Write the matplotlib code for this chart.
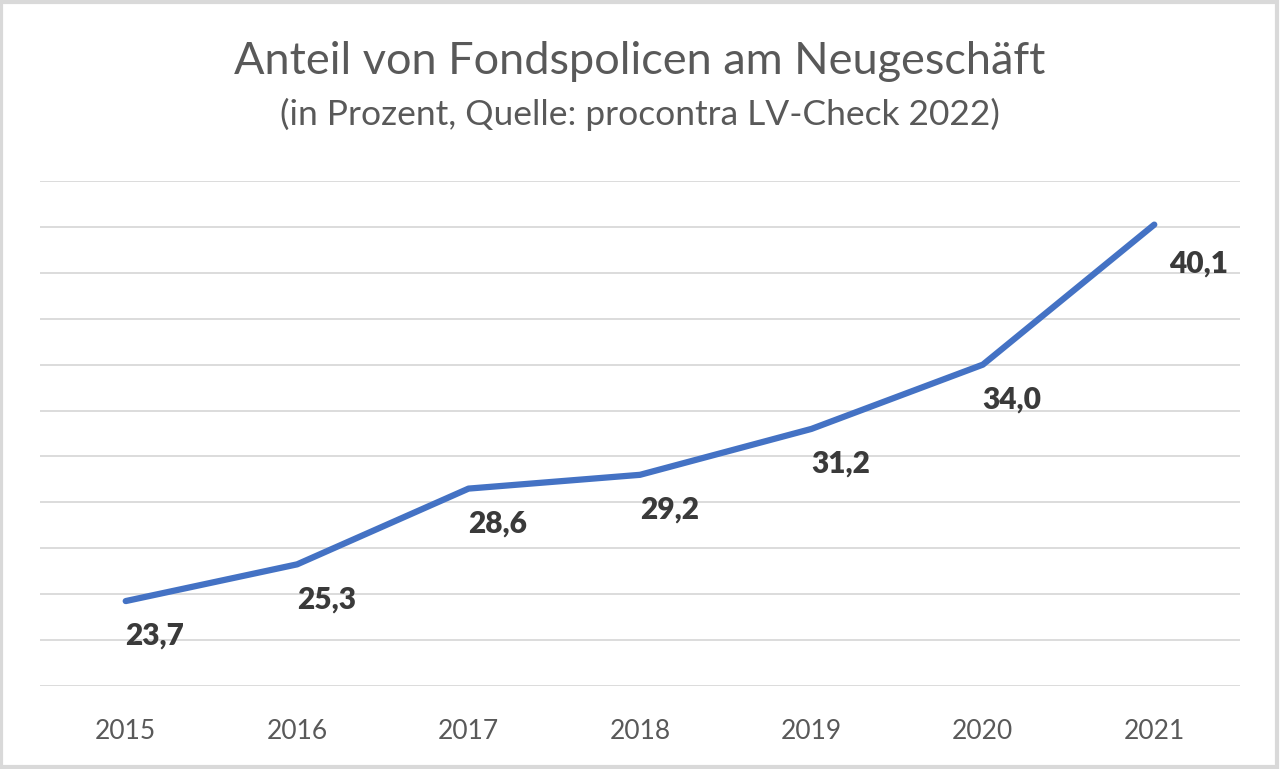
import matplotlib.pyplot as plt
from matplotlib.patches import Rectangle

# Daten
years = ['2015', '2016', '2017', '2018', '2019', '2020', '2021']
share = [23.7, 25.3, 28.6, 29.2, 31.2, 34.0, 40.1]
labels = ['23,7', '25,3', '28,6', '29,2', '31,2', '34,0', '40,1']

plt.rcParams['font.family'] = ['Lato', 'DejaVu Sans']

fig = plt.figure(figsize=(12.8, 7.69), dpi=100)
ax = fig.add_axes([40 / 1280, 1 - 686 / 769, 1200 / 1280, (686 - 181) / 769])

x = list(range(len(years)))
ax.plot(x, share, color='#4472C4', linewidth=4.5, solid_capstyle='round', zorder=3)

for i, (v, t) in enumerate(zip(share, labels)):
    if i == len(share) - 1:
        ax.annotate(t, (i, v), xytext=(11, -28), textcoords='offset points',
                    ha='left', va='center', fontsize=21.5, fontweight='heavy', color='#3a3a3a')
    else:
        ax.annotate(t, (i, v), xytext=(21, -25), textcoords='offset points',
                    ha='center', va='center', fontsize=21.5, fontweight='heavy', color='#3a3a3a')

ax.set_xlim(-0.5, 6.5)
ax.set_ylim(20, 42)
ax.set_yticks(range(20, 43, 2))
ax.set_yticklabels([])
ax.set_xticks(x)
ax.set_xticklabels(years, fontsize=19, color='#595959')
ax.tick_params(axis='both', length=0)
ax.tick_params(axis='x', pad=24)
ax.grid(axis='y', color='#d9d9d9', linewidth=1.3)
for s in ax.spines.values():
    s.set_visible(False)

fig.text(0.5, 1 - 62 / 769, 'Anteil von Fondspolicen am Neugeschäft',
         ha='center', va='center', fontsize=32.5, color='#595959')
fig.text(0.5, 1 - 114 / 769, '(in Prozent, Quelle: procontra LV-Check 2022)',
         ha='center', va='center', fontsize=25.5, color='#595959')

fig.patches.append(Rectangle((0.001, 0.002), 0.997, 0.995, transform=fig.transFigure,
                             fill=False, edgecolor='#d9d9d9', linewidth=3))

fig.savefig('out.png', dpi=100)
